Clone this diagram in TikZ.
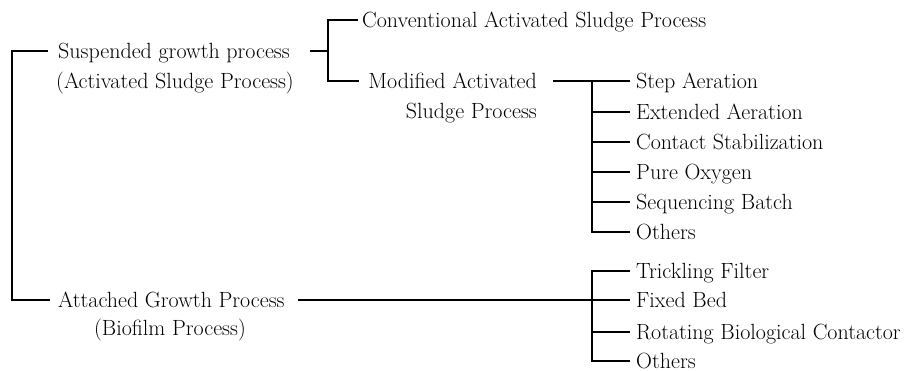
\documentclass[tikz,border=0pt]{standalone}
\usepackage{fontspec}
\begin{document}
\begin{tikzpicture}[x=1pt,y=-1pt,
  txt/.style={inner sep=0pt, text height=15pt, text depth=0pt, font=\fontsize{22}{26}\selectfont},
  conn/.style={draw=black, line width=1.2pt}]
\useasboundingbox (0,0) rectangle (906,371);
% left column
\node[txt,anchor=west] (sus) at (58,51) {Suspended growth process};
\node[txt] (susb) at (175,81) {(Activated Sludge Process)};
\node[txt,anchor=west] (att) at (58,300) {Attached Growth Process};
\node[txt] (attb) at (170,328) {(Biofilm Process)};
% middle column
\node[txt,anchor=west] (conv) at (362,20) {Conventional Activated Sludge Process};
\node[txt,anchor=east] (mod) at (537,81) {Modified Activated};
\node[txt,anchor=east] (modb) at (537,111) {Sludge Process};
% right column
\node[txt,anchor=west] (step) at (636,81) {Step Aeration};
\node[txt,anchor=west] (ext) at (636,112) {Extended Aeration};
\node[txt,anchor=west] (cont) at (636,142) {Contact Stabilization};
\node[txt,anchor=west] (pure) at (636,172) {Pure Oxygen};
\node[txt,anchor=west] (seq) at (636,202) {Sequencing Batch};
\node[txt,anchor=west] (oth1) at (636,232) {Others};
\node[txt,anchor=west] (trick) at (636,271) {Trickling Filter};
\node[txt,anchor=west] (fixed) at (636,300) {Fixed Bed};
\node[txt,anchor=west] (rot) at (636,332) {Rotating Biological Contactor};
\node[txt,anchor=west] (oth2) at (636,361) {Others};
% junction columns
\coordinate (j0) at (12,0);
\coordinate (j1) at (328,51);
\coordinate (j2) at (592,0);
% connectors
\draw[conn] ([xshift=-10pt]sus.west) -| (j0 |- att.west) -- ([xshift=-8pt]att.west);
\draw[conn] ([xshift=20pt]sus.east) -- (j1);
\draw[conn] ([xshift=-4pt]conv.west) -| (j1 |- mod.west) -- ([xshift=-9pt]mod.west);
\draw[conn] ([xshift=16pt]mod.east) -- (j2 |- mod.east);
\draw[conn] ([xshift=-6pt]step.west) -| (j2 |- oth1.west) -- ([xshift=-6pt]oth1.west);
\draw[conn] (j2 |- ext.west) -- ([xshift=-6pt]ext.west);
\draw[conn] (j2 |- cont.west) -- ([xshift=-6pt]cont.west);
\draw[conn] (j2 |- pure.west) -- ([xshift=-6pt]pure.west);
\draw[conn] (j2 |- seq.west) -- ([xshift=-6pt]seq.west);
\draw[conn] ([xshift=13pt]att.east) -- ([xshift=-6pt]fixed.west);
\draw[conn] ([xshift=-6pt]trick.west) -| (j2 |- oth2.west) -- ([xshift=-6pt]oth2.west);
\draw[conn] (j2 |- rot.west) -- ([xshift=-6pt]rot.west);
\end{tikzpicture}
\end{document}
